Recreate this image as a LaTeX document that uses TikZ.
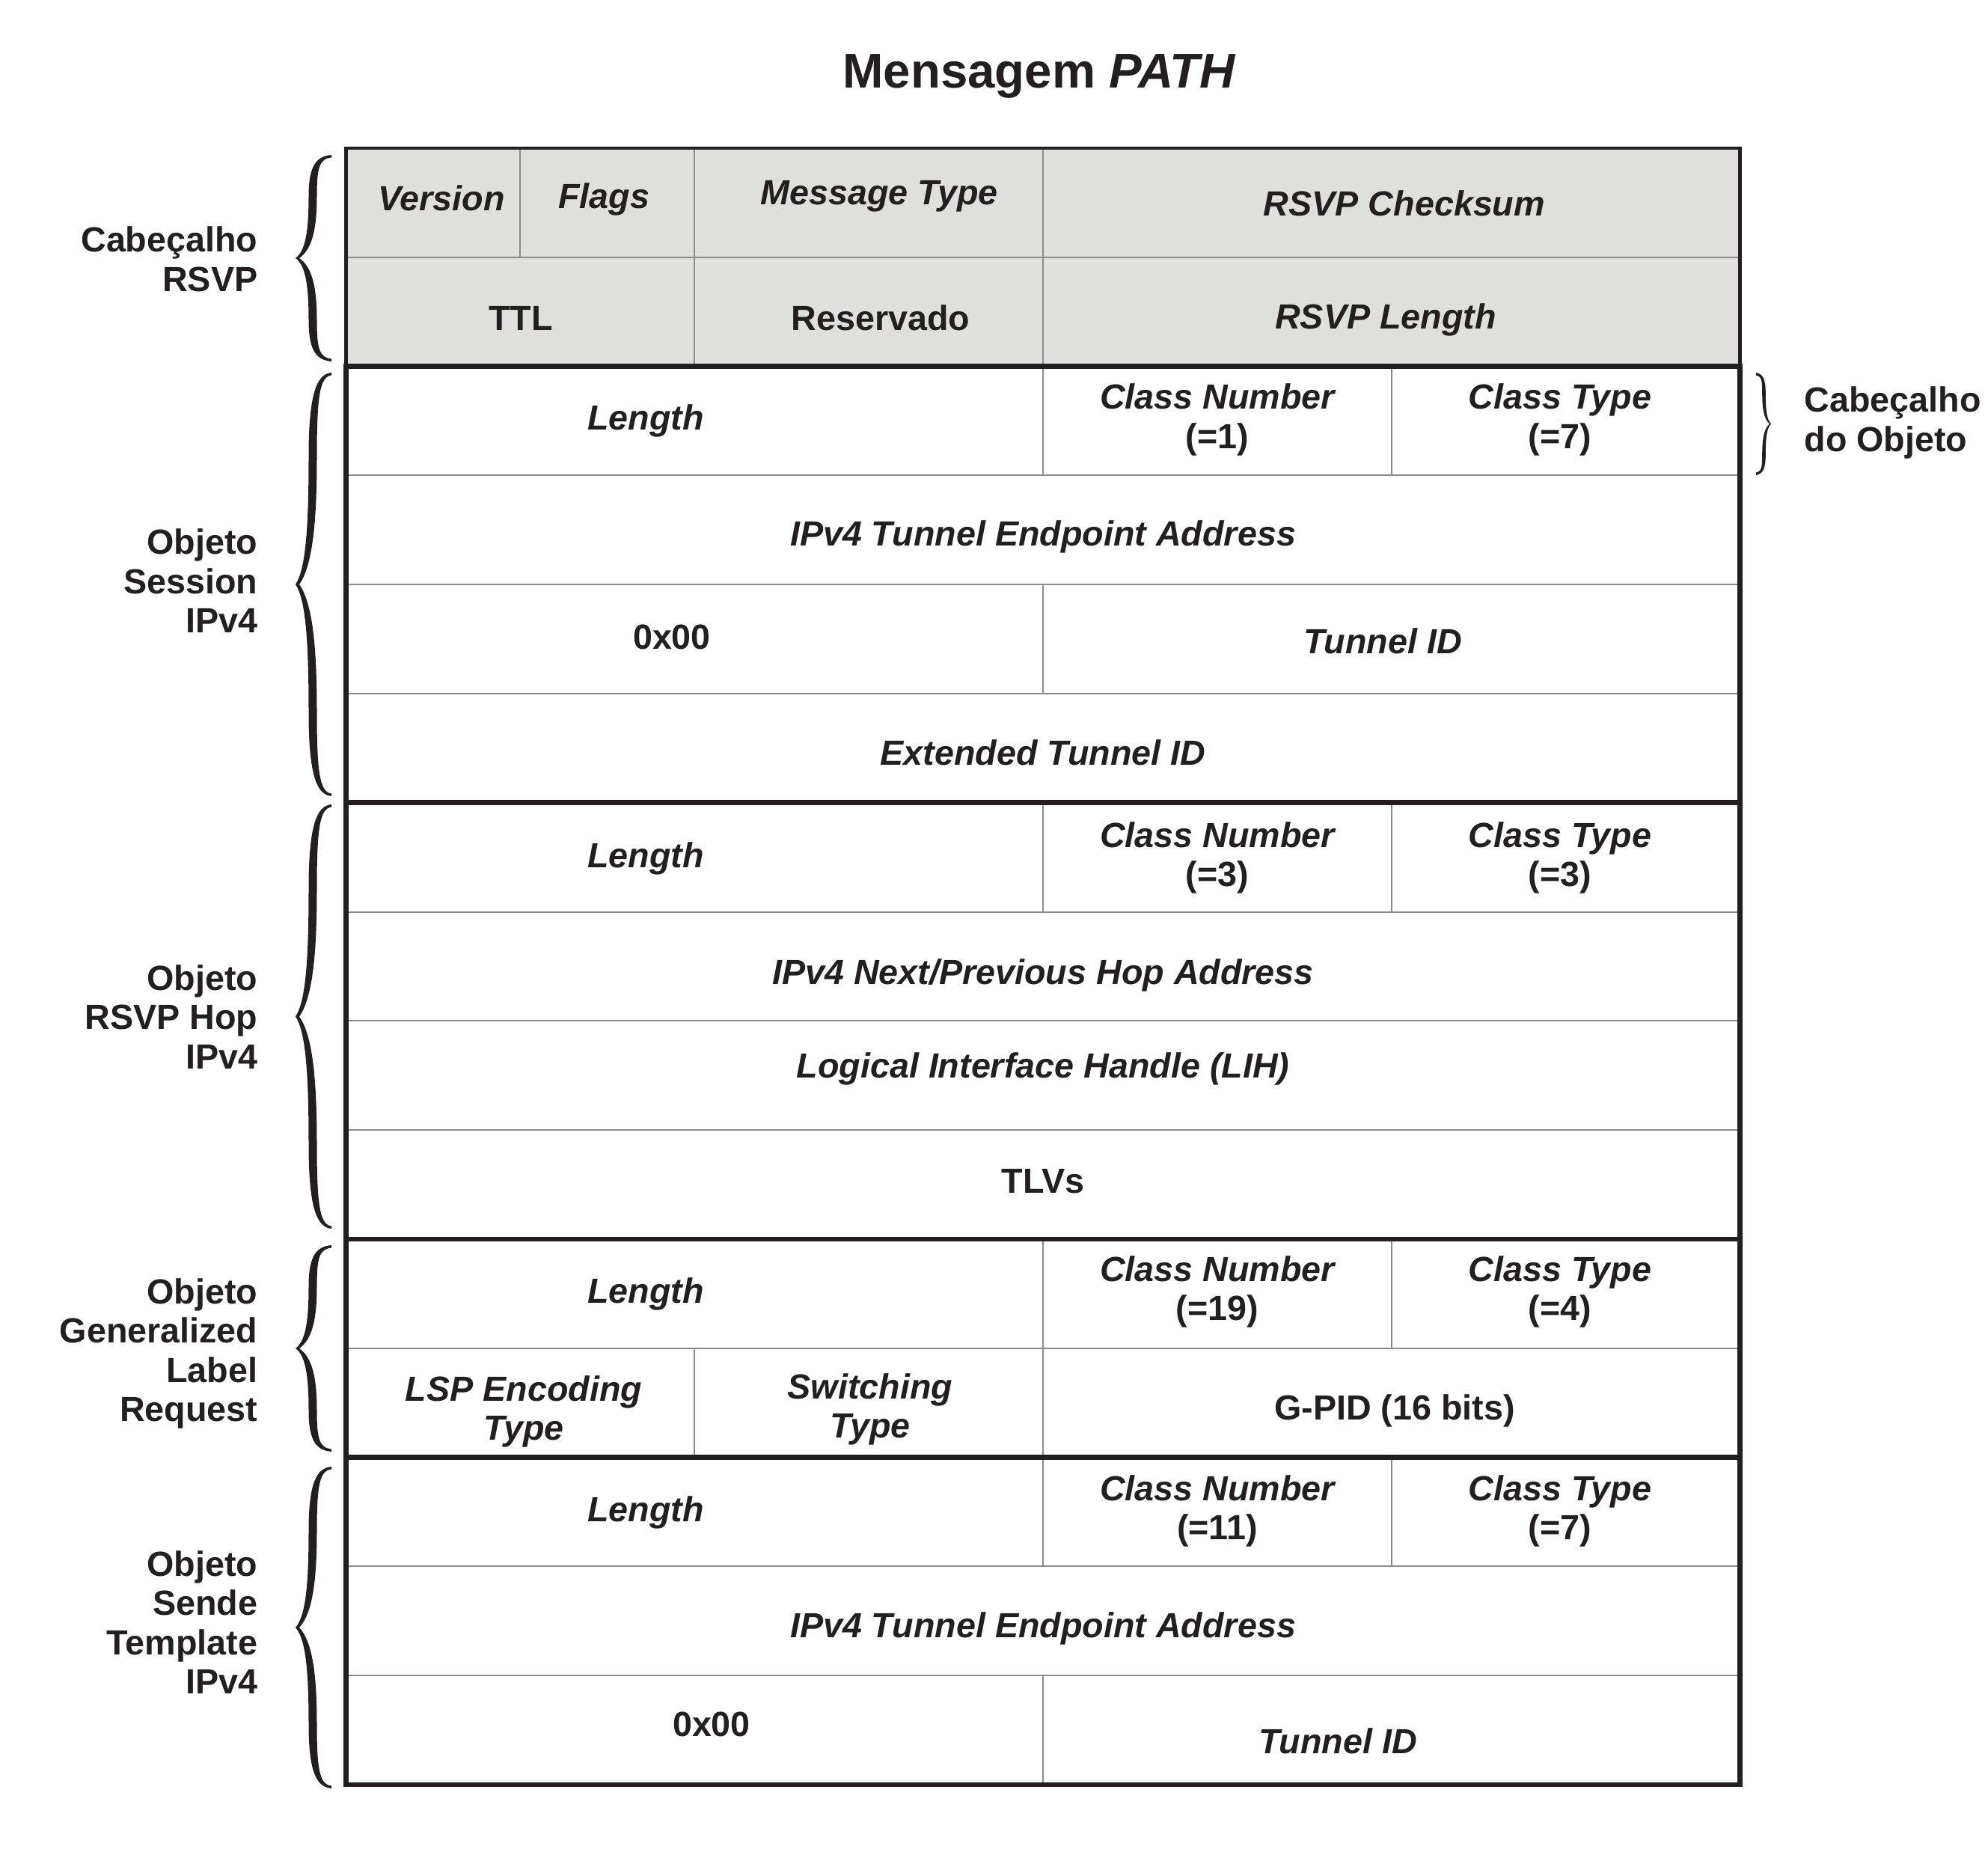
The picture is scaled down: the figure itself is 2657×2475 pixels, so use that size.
\documentclass[tikz,border=0pt]{standalone}
\usepackage{fontspec}
\setmainfont{Liberation Sans}
\definecolor{ink}{HTML}{231F20}
\definecolor{hdr}{HTML}{DFDFDD}
\definecolor{thinc}{HTML}{8C8C8C}
\newcommand{\stackc}[1]{\begin{tabular}[t]{@{}c@{}}#1\end{tabular}}
\newcommand{\stackr}[1]{\begin{tabular}[t]{@{}r@{}}#1\end{tabular}}
\newcommand{\stackl}[1]{\begin{tabular}[t]{@{}l@{}}#1\end{tabular}}
\newcommand{\mybrace}[4]{%
 \pgfmathsetmacro{\bhal}{(#3-#2)/2}%
 \pgfmathsetmacro{\bmid}{(#3+#2)/2}%
 \fill[ink] (#1,#2)
 .. controls ({#1-20*(#4)},{#2+2}) and ({#1-30.5*(#4)},{#2+0.1*\bhal}) .. ({#1-30.5*(#4)},{#2+0.4*\bhal})
 .. controls ({#1-30.5*(#4)},{#2+0.75*\bhal}) and ({#1-35*(#4)},{\bmid-0.07*\bhal}) .. ({#1-48*(#4)},\bmid)
 .. controls ({#1-35*(#4)},{\bmid+0.07*\bhal}) and ({#1-30.5*(#4)},{#3-0.75*\bhal}) .. ({#1-30.5*(#4)},{#3-0.4*\bhal})
 .. controls ({#1-30.5*(#4)},{#3-0.1*\bhal}) and ({#1-20*(#4)},{#3-2}) .. (#1,#3)
 -- (#1,{#3-3.5})
 .. controls ({#1-16*(#4)},{#3-5}) and ({#1-19.5*(#4)},{#3-0.12*\bhal}) .. ({#1-19.5*(#4)},{#3-0.4*\bhal})
 .. controls ({#1-19.5*(#4)},{#3-0.7*\bhal}) and ({#1-25*(#4)},{\bmid+0.09*\bhal}) .. ({#1-43*(#4)},\bmid)
 .. controls ({#1-25*(#4)},{\bmid-0.09*\bhal}) and ({#1-19.5*(#4)},{#2+0.7*\bhal}) .. ({#1-19.5*(#4)},{#2+0.4*\bhal})
 .. controls ({#1-19.5*(#4)},{#2+0.12*\bhal}) and ({#1-16*(#4)},{#2+5}) .. (#1,{#2+3.5}) -- cycle;
}
\tikzset{
 txt/.style={inner sep=0pt, anchor=base, yshift=-0.9pt, text=ink, font=\fontsize{14}{15.75}\selectfont\bfseries},
 itxt/.style={txt, font=\fontsize{14}{15.75}\selectfont\bfseries\itshape},
 lbl/.style={txt, anchor=base east},
 rlbl/.style={txt, anchor=base west},
 titletxt/.style={inner sep=0pt, anchor=base, text=ink, font=\fontsize{19.6}{22}\selectfont\bfseries},
 thinline/.style={draw=thinc, line width=0.6pt},
 hdrframe/.style={draw=ink, line width=1.4pt},
 frame/.style={draw=ink, line width=2pt},
}
\begin{document}
\begin{tikzpicture}[x=0.3pt,y=-0.3pt]
\useasboundingbox (0,0) rectangle (2657,2475);
% column positions
\def\Xa{462.5}\def\Xb{695.4}\def\Xc{928.3}\def\Xd{1394}\def\Xe{1859.7}\def\Xf{2325.4}
% header fill
\fill[hdr] (\Xa,198) rectangle (\Xf,489.6);
% thin horizontal lines
\draw[thinline] (\Xa,343.8) -- (\Xf,343.8);
\foreach \yy in {635.4,781.2,927,1218.6,1364.4,1510.2,1801.8,2093.4,2239.2}
  \draw[thinline] (\Xa,\yy) -- (\Xf,\yy);
% thin vertical lines
\draw[thinline] (\Xb,198) -- (\Xb,343.8);
\draw[thinline] (\Xc,198) -- (\Xc,489.6);
\draw[thinline] (\Xd,198) -- (\Xd,635.4);
\draw[thinline] (\Xe,489.6) -- (\Xe,635.4);
\draw[thinline] (\Xd,781.2) -- (\Xd,927);
\draw[thinline] (\Xd,1072.8) -- (\Xd,1218.6);
\draw[thinline] (\Xe,1072.8) -- (\Xe,1218.6);
\draw[thinline] (\Xd,1656) -- (\Xd,2093.4);
\draw[thinline] (\Xe,1656) -- (\Xe,1801.8);
\draw[thinline] (\Xc,1801.8) -- (\Xc,1947.6);
\draw[thinline] (\Xe,1947.6) -- (\Xe,2093.4);
\draw[thinline] (\Xd,2239.2) -- (\Xd,2385);
% thick frames
\draw[hdrframe] (\Xa,198) rectangle (\Xf,489.6);
\draw[frame] (\Xa,489.6) rectangle (\Xf,2385);
\draw[frame] (\Xa,1072.8) -- (\Xf,1072.8);
\draw[frame] (\Xa,1656) -- (\Xf,1656);
\draw[frame] (\Xa,1947.6) -- (\Xf,1947.6);
% braces
\mybrace{443}{207}{483}{1}
\mybrace{443}{498}{1064}{1}
\mybrace{443}{1075}{1642}{1}
\mybrace{443}{1664}{1940}{1}
\mybrace{443}{1960}{2390}{1}
\mybrace{2347}{498}{635}{-0.42}
% title
\node[titletxt] (title) at (1389,118) {Mensagem \textit{PATH}};
% header texts
\node[itxt] (version) at (590,279) {Version};
\node[itxt] (flags) at (807,276) {Flags};
\node[itxt] (msgtype) at (1175,271) {Message Type};
\node[itxt] (checksum) at (1877,286) {RSVP Checksum};
\node[txt] (ttl) at (696,439) {TTL};
\node[txt] (reservado) at (1177,439) {Reservado};
\node[itxt] (rsvplen) at (1852,437) {RSVP Length};
% session object
\node[itxt] (slen) at (863,572) {Length};
\node[itxt] (scn) at (1627,544) {\stackc{Class Number\\\upshape(=1)}};
\node[itxt] (sct) at (2085,544) {\stackc{Class Type\\\upshape(=7)}};
\node[itxt] (stea) at (1394,727) {IPv4 Tunnel Endpoint Address};
\node[txt] (szero) at (898,865) {0x00};
\node[itxt] (stid) at (1848,871) {Tunnel ID};
\node[itxt] (setid) at (1394,1020) {Extended Tunnel ID};
% hop object
\node[itxt] (hlen) at (863,1156) {Length};
\node[itxt] (hcn) at (1627,1129) {\stackc{Class Number\\\upshape(=3)}};
\node[itxt] (hct) at (2085,1129) {\stackc{Class Type\\\upshape(=3)}};
\node[itxt] (haddr) at (1394,1312) {IPv4 Next/Previous Hop Address};
\node[itxt] (hlih) at (1394,1437) {Logical Interface Handle (LIH)};
\node[txt] (htlv) at (1394,1591) {TLVs};
% generalized label request
\node[itxt] (glen) at (863,1738) {Length};
\node[itxt] (gcn) at (1627,1709) {\stackc{Class Number\\\upshape(=19)}};
\node[itxt] (gct) at (2085,1709) {\stackc{Class Type\\\upshape(=4)}};
\node[itxt] (glsp) at (700,1869) {\stackc{LSP Encoding\\Type}};
\node[itxt] (gsw) at (1163,1866) {\stackc{Switching\\Type}};
\node[txt] (gpid) at (1864,1894) {G-PID (16 bits)};
% sender template
\node[itxt] (tlen) at (863,2030) {Length};
\node[itxt] (tcn) at (1627,2002) {\stackc{Class Number\\\upshape(=11)}};
\node[itxt] (tct) at (2085,2002) {\stackc{Class Type\\\upshape(=7)}};
\node[itxt] (ttea) at (1394,2185) {IPv4 Tunnel Endpoint Address};
\node[txt] (tzero) at (951,2317) {0x00};
\node[itxt] (ttid) at (1788,2340) {Tunnel ID};
% left labels
\node[lbl] (lhdr) at (345,334) {\stackr{Cabeçalho\\RSVP}};
\node[lbl] (lses) at (345,738) {\stackr{Objeto\\Session\\IPv4}};
\node[lbl] (lhop) at (345,1320) {\stackr{Objeto\\RSVP Hop\\IPv4}};
\node[lbl] (lglr) at (345,1739) {\stackr{Objeto\\Generalized\\Label\\Request}};
\node[lbl] (ltpl) at (345,2103) {\stackr{Objeto\\Sende\\Template\\IPv4}};
% right label
\node[rlbl] (robj) at (2411,548) {\stackl{Cabeçalho\\do Objeto}};
\end{tikzpicture}
\end{document}
